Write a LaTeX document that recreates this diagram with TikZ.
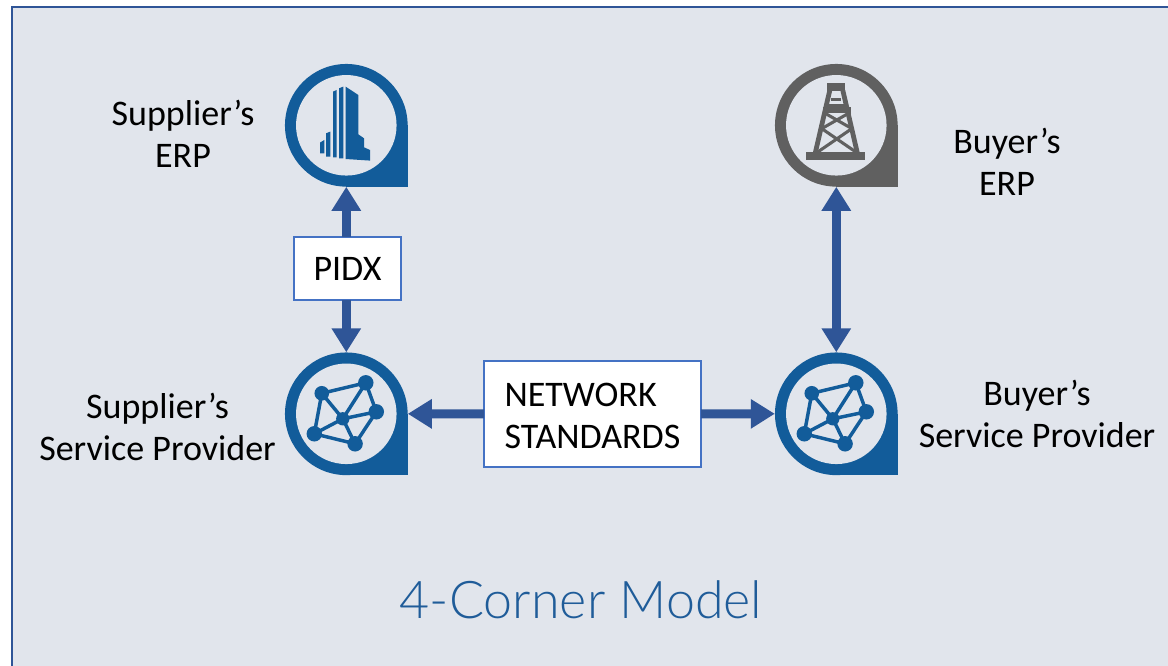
\documentclass[tikz,border=0pt]{standalone}
\usepackage{fontspec}
\setmainfont{Carlito}
\newfontfamily\titlefont[UprightFont=* Light]{Lato}
\usetikzlibrary{arrows.meta}
\definecolor{panel}{HTML}{E1E5EC}
\definecolor{edge}{HTML}{2F5597}
\definecolor{boxedge}{HTML}{4472C4}
\definecolor{iconblue}{HTML}{125C9A}
\definecolor{icongrey}{HTML}{606060}
\definecolor{titleblue}{HTML}{1F5C99}
\tikzset{
  x=0.75pt,y=-0.75pt,
  lbl/.style={align=center,font=\fontsize{27}{31.5}\selectfont,text=black,inner sep=0pt},
  pinnode/.style={minimum size=92.25pt,inner sep=0pt,outer sep=0pt},
  boxnode/.style={draw=boxedge,line width=1.3pt,fill=white,inner sep=0pt,outer sep=0pt,text=black,font=\fontsize{27}{31.5}\selectfont},
  link/.style={draw=edge,line width=6.75pt,{Triangle[length=18pt,width=21pt]}-{Triangle[length=18pt,width=21pt]}},
  linkone/.style={draw=edge,line width=6.75pt,-{Triangle[length=18pt,width=21pt]}},
  pics/pinshape/.style={code={
    \fill[#1] (0,0) circle[radius=46pt];
    \fill[#1] (0,0) rectangle (61.3,61.3);
    \fill[panel] (0,0) circle[radius=37.7pt];
  }},
  pics/tower/.style={code={
    \fill[iconblue] (-26.3,17.3)--(-22,14.7)--(-22,28)--(-26.3,28)--cycle;
    \fill[iconblue] (-20.3,8)--(-16,6.3)--(-16,31.3)--(-20.3,31.3)--cycle;
    \fill[iconblue] (-13.3,-33.7)--(-9.7,-35.3)--(-9.7,32)--(-13.3,32)--cycle;
    \fill[iconblue] (-7.3,-37)--(-3,-38.7)--(-3,33)--(-7.3,33)--cycle;
    \fill[iconblue] (-0.7,-38.7)--(12,-30.3)--(12,9)--(17.7,13)--(17.7,22)--(23.7,24.7)--(23.7,35.3)--(-0.7,33.7)--cycle;
  }},
  pics/rig/.style={code={
    \fill[icongrey] (-30.3,27)rectangle(29,34.7);
    \fill[icongrey] (-9.3,-42)rectangle(9,-34.7);
    \fill[icongrey] (-13.3,-18)rectangle(14.7,-12);
    \begin{scope}[draw=icongrey]
      \draw[line width=3.6pt] (-6.5,-35)--(-21,27.5);
      \draw[line width=3.6pt] (6.5,-35)--(21,27.5);
      \draw[line width=2.3pt] (-13,-13)--(15,3) (14,-13)--(-14,3);
      \draw[line width=2.3pt] (-15,3)--(20,27) (16,3)--(-19,27);
      \draw[line width=2.3pt] (-9,-20)--(9,-20);
      \draw[line width=2.3pt] (-5,-26)--(5,-26);
    \end{scope}
  }},
  pics/mesh/.style={code={
    \begin{scope}[draw=iconblue,line width=2.6pt]
      \coordinate (na) at (-24.5,-20.5);
      \coordinate (nb) at (19.5,-31);
      \coordinate (nc) at (30,-2);
      \coordinate (nd) at (8.8,30);
      \coordinate (ne) at (-32,20);
      \coordinate (nf) at (-3.5,5);
      \draw (na)--(nb)--(nc)--(nd)--(ne)--cycle;
      \draw (nf)--(na) (nf)--(nb) (nf)--(nc) (nf)--(nd) (nf)--(ne);
    \end{scope}
    \fill[iconblue] (na) circle[radius=5.5pt] (nb) circle[radius=5.8pt] (nc) circle[radius=5.8pt] (nd) circle[radius=5.8pt] (ne) circle[radius=5.8pt] (nf) circle[radius=5pt];
  }}
}
\begin{document}
\begin{tikzpicture}
\useasboundingbox (0,0) rectangle (1168,666);
\fill[white] (0,0) rectangle (1168,666);
\fill[panel] (12,7) rectangle (1172,672);
\draw[edge,line width=2pt] (12,672) -- (12,7) -- (1172,7);

\node[pinnode] (supp) at (346.3,125.3) {};
\node[pinnode] (buy) at (836.3,125.3) {};
\node[pinnode] (supsp) at (346.3,413.8) {};
\node[pinnode] (buysp) at (836.3,413.8) {};
\pic at (supp) {pinshape=iconblue};
\pic at (buy) {pinshape=icongrey};
\pic at (supsp) {pinshape=iconblue};
\pic at (buysp) {pinshape=iconblue};
\pic at (supp) {tower};
\pic at (buy) {rig};
\pic at (supsp) {mesh};
\pic at (buysp) {mesh};

\node[boxnode,minimum width=80pt,minimum height=47pt] (pidx) at (347.5,268.5) {PIDX};
\node[boxnode,minimum width=162.5pt,minimum height=79.5pt] (net) at (592.5,414) {\raisebox{-9.75pt}[0pt][0pt]{\begin{tabular}{@{}l@{}}NETWORK\\STANDARDS\end{tabular}}};

\draw[linkone] (pidx.north -| supp.south) -- (supp.south);
\draw[linkone] (pidx.south -| supsp.north) -- (supsp.north);
\draw[link] (buy.south) -- (buysp.north);
\draw[linkone] (net.west) -- (supsp.east);
\draw[linkone] (net.east) -- (buysp.west);

\node[lbl] (l1) at (183,134) {Supplier’s\\ERP};
\node[lbl] (l2) at (1007,162) {Buyer’s\\ERP};
\node[lbl] (l3) at (157.5,427) {Supplier’s\\Service Provider};
\node[lbl] (l4) at (1037,414) {Buyer’s\\Service Provider};
\node[inner sep=0pt,text=titleblue,font=\titlefont\fontsize{39}{44}\selectfont] (title) at (581,600) {4-Corner Model};
\end{tikzpicture}
\end{document}
